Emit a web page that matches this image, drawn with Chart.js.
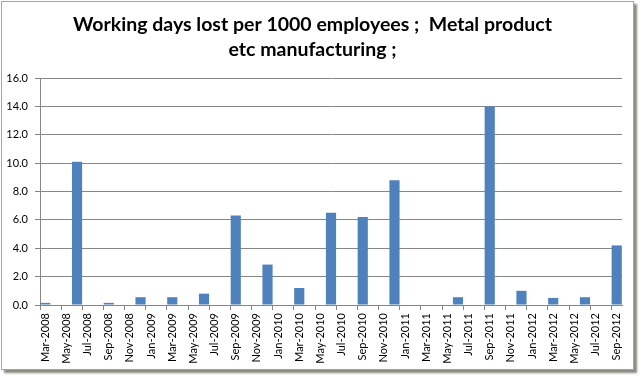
<!DOCTYPE html>
<html>
<head>
<meta charset="utf-8">
<script src="https://cdn.jsdelivr.net/npm/chart.js@4.4.0/dist/chart.umd.min.js"></script>
<style>
  html, body { margin: 0; padding: 0; background: #ffffff; }
  #frame {
    position: absolute; left: 1px; top: 1px;
    width: 631px; height: 367px;
    border: 1px solid #a6a6a6;
    box-shadow: 3px 3px 2px #8a8a80;
    background: #ffffff;
  }
</style>
</head>
<body>
<div id="frame"><canvas id="c"></canvas></div>
<script>
const titleLines = ['Working days lost per 1000 employees ;  Metal product', 'etc manufacturing ;'];

const months = [
  'Mar-2008','Apr-2008','May-2008','Jun-2008','Jul-2008','Aug-2008','Sep-2008','Oct-2008','Nov-2008','Dec-2008',
  'Jan-2009','Feb-2009','Mar-2009','Apr-2009','May-2009','Jun-2009','Jul-2009','Aug-2009','Sep-2009','Oct-2009','Nov-2009','Dec-2009',
  'Jan-2010','Feb-2010','Mar-2010','Apr-2010','May-2010','Jun-2010','Jul-2010','Aug-2010','Sep-2010','Oct-2010','Nov-2010','Dec-2010',
  'Jan-2011','Feb-2011','Mar-2011','Apr-2011','May-2011','Jun-2011','Jul-2011','Aug-2011','Sep-2011','Oct-2011','Nov-2011','Dec-2011',
  'Jan-2012','Feb-2012','Mar-2012','Apr-2012','May-2012','Jun-2012','Jul-2012','Aug-2012','Sep-2012'
];

const quarters = [
  'Mar-2008','Jun-2008','Sep-2008','Dec-2008',
  'Mar-2009','Jun-2009','Sep-2009','Dec-2009',
  'Mar-2010','Jun-2010','Sep-2010','Dec-2010',
  'Mar-2011','Jun-2011','Sep-2011','Dec-2011',
  'Mar-2012','Jun-2012','Sep-2012'
];
const daysLost = [
  0.15, 10.1, 0.15, 0.55,
  0.55, 0.8, 6.3, 2.85,
  1.2, 6.5, 6.2, 8.8,
  0, 0.55, 14.0, 1.0,
  0.5, 0.55, 4.2
];

const yTicks = [0, 2, 4, 6, 8, 10, 12, 14, 16];

const monthlyData = months.map(m => {
  const i = quarters.indexOf(m);
  return i >= 0 ? daysLost[i] : null;
});

const gridGray = '#868686';
const labelFont = { family: 'Lato, "Liberation Sans", sans-serif', size: 11 };

new Chart(document.getElementById('c'), {
  type: 'bar',
  data: {
    labels: months,
    datasets: [{
      data: monthlyData,
      backgroundColor: '#4F81BD',
      borderWidth: 0,
      barPercentage: 0.96,
      categoryPercentage: 1.0
    }]
  },
  options: {
    responsive: true,
    maintainAspectRatio: false,
    animation: false,
    layout: { padding: { left: 0, right: 10, top: 0, bottom: 0 } },
    plugins: {
      legend: { display: false },
      tooltip: { enabled: false },
      title: {
        display: true,
        text: titleLines,
        color: '#000000',
        font: { family: 'Lato, "Liberation Sans", sans-serif', size: 19.5, weight: 'bold', lineHeight: 25 / 19.5 },
        padding: { top: 10, bottom: 16 }
      }
    },
    scales: {
      x: {
        offset: true,
        grid: {
          offset: true,
          drawOnChartArea: false,
          drawTicks: true,
          tickLength: 5,
          color: ctx => (ctx.index % 2 === 0 ? gridGray : 'rgba(0,0,0,0)')
        },
        border: { display: true, color: gridGray },
        ticks: {
          autoSkip: false,
          maxRotation: 90,
          minRotation: 90,
          padding: 3,
          color: '#000000',
          font: labelFont,
          callback: (v, i) => (i % 2 === 0 ? months[i] : '')
        },
        afterFit: s => { s.height = 64; }
      },
      y: {
        min: 0,
        max: 16,
        afterBuildTicks: s => { s.ticks = yTicks.map(v => ({ value: v })); },
        grid: { color: gridGray, drawTicks: true, tickLength: 5 },
        border: { display: true, color: gridGray },
        ticks: {
          padding: 7,
          color: '#000000',
          font: labelFont,
          callback: v => Number(v).toFixed(1)
        },
        afterFit: s => { s.width = 38; }
      }
    }
  }
});
</script>
</body>
</html>
